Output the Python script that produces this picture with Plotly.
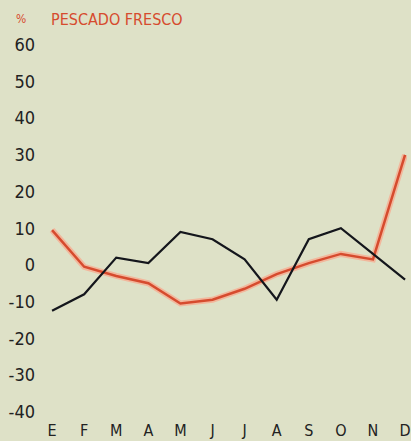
import plotly.graph_objects as go

months = ["E", "F", "M", "A", "M", "J", "J", "A", "S", "O", "N", "D"]
black_series = [-12.5, -8, 2, 0.5, 9, 7, 1.5, -9.5, 7, 10, 3, -4]
red_series = [9.5, -0.5, -3, -5, -10.5, -9.5, -6.5, -2.5, 0.5, 3, 1.5, 30]
y_ticks = [60, 50, 40, 30, 20, 10, 0, -10, -20, -30, -40]

xs = list(range(len(months)))
FONT = "DejaVu Sans Condensed, Liberation Sans Narrow, Arial Narrow, sans-serif"
BG = "#dee1c7"

fig = go.Figure()
fig.add_trace(go.Scatter(x=xs, y=red_series, mode="lines",
                         line=dict(color="#f2b79c", width=6), hoverinfo="skip", showlegend=False))
fig.add_trace(go.Scatter(x=xs, y=red_series, mode="lines",
                         line=dict(color="#d64b2e", width=2.5), showlegend=False))
fig.add_trace(go.Scatter(x=xs, y=black_series, mode="lines",
                         line=dict(color="#14161c", width=2.2), showlegend=False))

W, H = 411, 441
ml, mr, mt, mb = 45, 4, 30, 23
pw = W - ml - mr
ph = H - mt - mb

def px_x(p):
    return (p - ml) / pw

def px_y(p):
    return (H - mb - p) / ph

fig.update_layout(
    width=W, height=H,
    margin=dict(l=ml, r=mr, t=mt, b=mb, pad=0),
    paper_bgcolor=BG, plot_bgcolor=BG,
    font=dict(family=FONT, color="#222222", size=15),
    xaxis=dict(range=[-0.22, 11.06], tickmode="array", tickvals=xs, ticktext=months,
               showgrid=False, zeroline=False, showline=False, ticks="", automargin=False,
               ticklabelstandoff=1, tickfont=dict(size=16, family=FONT, color="#222222")),
    yaxis=dict(range=[-41.7, 64], tickmode="array", tickvals=y_ticks,
               ticktext=[str(v) for v in y_ticks], automargin=False,
               showgrid=False, zeroline=False, showline=False, ticks="",
               ticklabelstandoff=9, tickfont=dict(size=18, family=FONT, color="#222222")),
    annotations=[
        dict(text="%", x=px_x(14), y=px_y(19), xref="paper", yref="paper",
             xanchor="left", yanchor="middle", showarrow=False,
             font=dict(family=FONT, size=12, color="#d64b2e")),
        dict(text="PESCADO FRESCO", x=px_x(49), y=px_y(19), xref="paper", yref="paper",
             xanchor="left", yanchor="middle", showarrow=False,
             font=dict(family=FONT, size=16, color="#d64b2e")),
    ],
)

fig.write_html("out.html", config={"displayModeBar": False},
               post_script="document.body.style.margin='0';document.body.style.overflow='hidden';")
